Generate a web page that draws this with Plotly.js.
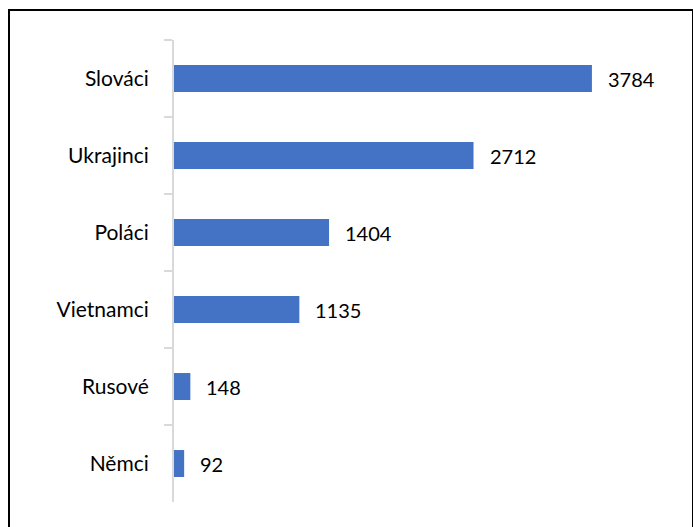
<!DOCTYPE html>
<html><head><meta charset="utf-8">
<script src="https://cdn.plot.ly/plotly-3.0.1.min.js"></script>
<style>
html,body{margin:0;padding:0;background:#fff;}
#wrap{position:relative;width:693px;height:527px;}
#chart{position:absolute;left:0;top:0;width:693px;height:527px;}
#frame{position:absolute;left:8px;top:9px;width:682px;height:530px;border:2px solid #000;border-bottom:none;pointer-events:none;}
</style></head>
<body>
<div id="wrap"><div id="chart"></div><div id="frame"></div></div>
<script>
const categories = ["Slováci","Ukrajinci","Poláci","Vietnamci","Rusové","Němci"];
const values = [3784, 2712, 1404, 1135, 148, 92];

const trace = {
  type: "bar", orientation: "h",
  x: values, y: categories,
  marker: {color: "#4472c4"},
  hoverinfo: "none"
};
const annotations = values.map((v, i) => ({
  x: v, y: categories[i], xref: "x", yref: "y",
  text: String(v), showarrow: false, xanchor: "left", xshift: 14,
  font: {family: "Lato, 'Open Sans', sans-serif", size: 20, color: "#000"}
}));
const layout = {
  width: 693, height: 527,
  margin: {l: 174, r: 22, t: 40, b: 25},
  paper_bgcolor: "#fff", plot_bgcolor: "#fff",
  showlegend: false,
  bargap: 0.65,
  font: {family: "Lato, 'Open Sans', sans-serif", size: 21, color: "#000"},
  xaxis: {range: [0, 4500], visible: false, showgrid: false, zeroline: false, fixedrange: true},
  yaxis: {
    type: "category", autorange: "reversed",
    showline: true, linecolor: "#d9d9d9", linewidth: 2,
    ticks: "outside", tickson: "boundaries", ticklen: 8, tickcolor: "#d9d9d9", tickwidth: 2,
    ticklabelstandoff: 19,
    showgrid: false, zeroline: false,
    tickfont: {family: "Lato, 'Open Sans', sans-serif", size: 21, color: "#000"}
  },
  annotations: annotations
};
Plotly.newPlot("chart", [trace], layout, {displayModeBar: false, staticPlot: true});
</script>
</body></html>
